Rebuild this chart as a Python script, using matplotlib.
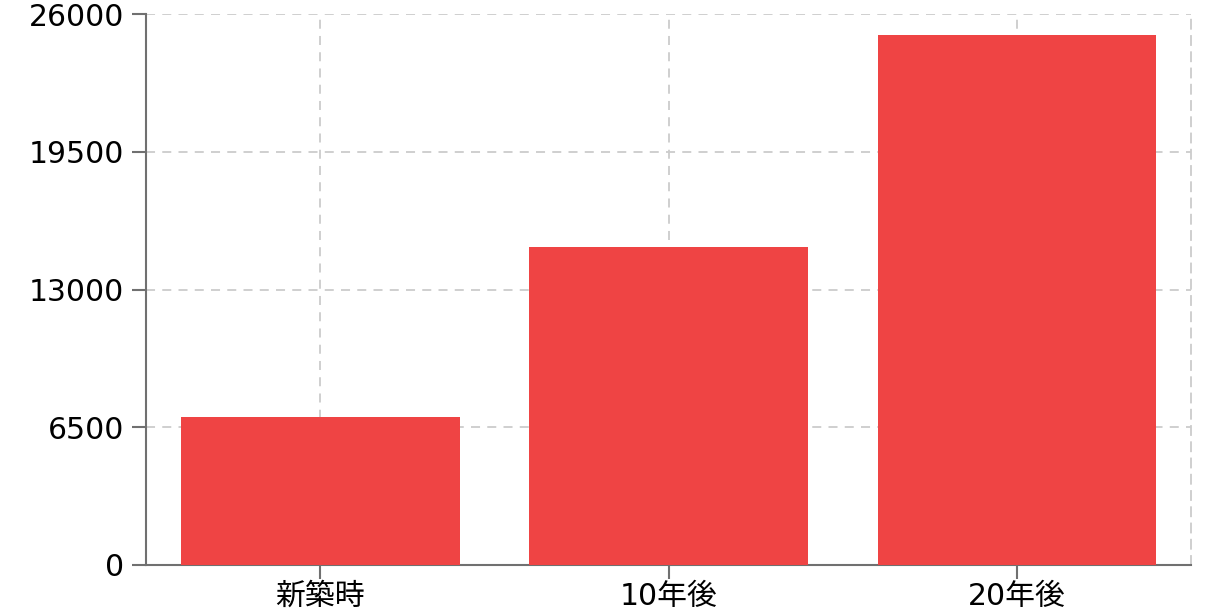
import matplotlib
matplotlib.use("Agg")
import matplotlib.pyplot as plt
import numpy as np

plt.rcParams['font.family'] = ['DejaVu Sans', 'Noto Sans CJK JP']

# Data
categories = ['新築時', '10年後', '20年後']
values = [7000, 15000, 25000]
y_ticks = [0, 6500, 13000, 19500, 26000]

bar_color = '#EF4444'
axis_color = '#707070'
grid_color = '#CCCCCC'

fig = plt.figure(figsize=(12.06, 6.15), dpi=100)
ax = fig.add_axes([146 / 1206, 50 / 615, (1191 - 146) / 1206, (565 - 14) / 615])

x = np.arange(len(categories))
ax.bar(x, values, width=0.8, color=bar_color, zorder=3)

ax.set_xlim(-0.5, len(categories) - 0.5)
ax.set_ylim(0, 26000)
ax.set_yticks(y_ticks)
ax.set_yticklabels([str(t) for t in y_ticks])
ax.set_xticks(x)
ax.set_xticklabels(categories)

ax.grid(True, color=grid_color, linestyle=(0, (5, 4)), linewidth=1.3, zorder=0)

ax.spines['top'].set_visible(False)
ax.spines['right'].set_color(grid_color)
ax.spines['right'].set_linestyle((0, (5, 4)))
ax.spines['right'].set_linewidth(1.3)
for side in ['left', 'bottom']:
    ax.spines[side].set_color(axis_color)
    ax.spines[side].set_linewidth(1.5)

ax.tick_params(axis='both', colors=axis_color, length=10, width=1.5, labelsize=21.5,
               labelcolor='black')
ax.tick_params(axis='x', pad=2)
ax.tick_params(axis='y', pad=6)

plt.savefig('out.png', dpi=100)
